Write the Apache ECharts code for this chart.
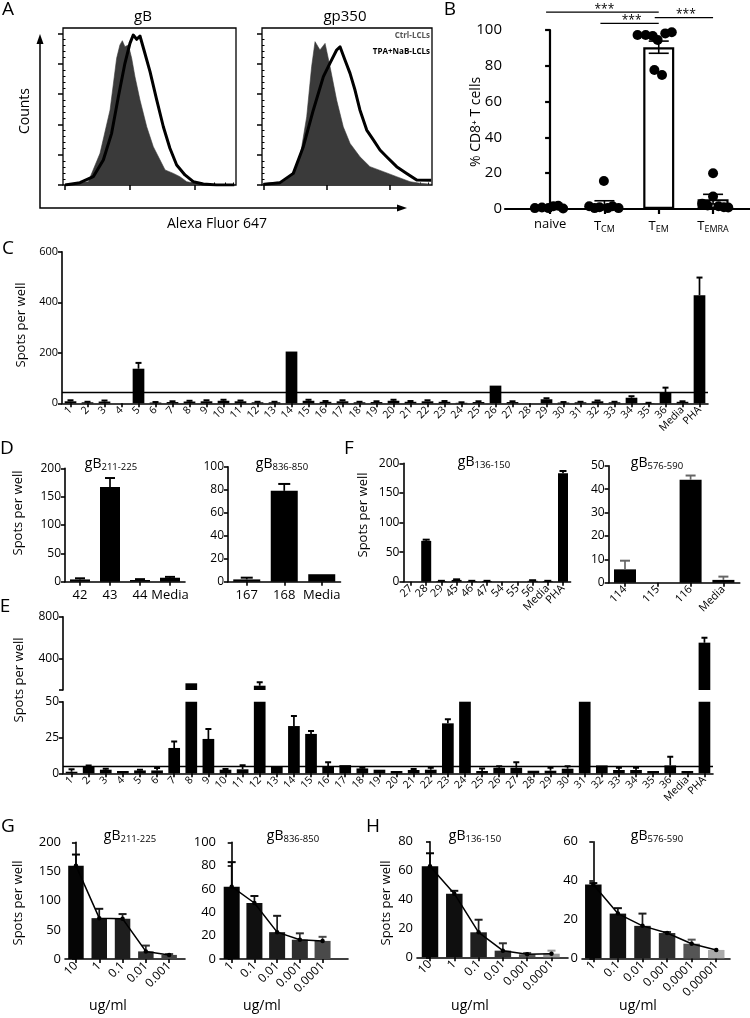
<!DOCTYPE html>
<html><head><meta charset="utf-8">
<script src="https://cdn.jsdelivr.net/npm/echarts@6.0.0/dist/echarts.min.js"></script>
<style>html,body{margin:0;padding:0;background:#fff;}#c{width:750px;height:1018px;}</style>
</head><body><div id="c"></div>
<script>
// ================= DATA =================
// Panel A - flow histograms (x: % of axis width, y: % of frame height)
const aGbCtrlX = [1.2,14.6,21.4,27.2,31,32.9,34.3,35.8,37.8,39.7,41.6,44.5,48.4,52.2,56.1,59,63.8,67.6,71.5,79.2,98];
const aGbCtrlY = [0.4,2.1,20.2,47.8,80.7,89.2,91.9,88.1,89.2,80.7,69,54.1,37.1,24.4,15.9,9.6,7.4,5.3,2.1,0.4,0];
const aGbTpaX  = [1.2,9.8,17.5,23.3,28.1,32,35.8,38.7,40.6,42.6,44.5,46.8,50.3,54.2,58,61.8,65.7,70.5,75.3,81.1,88.8,99];
const aGbTpaY  = [0,1.5,5.3,15.9,32.9,56.2,77.5,90.2,95.5,92.8,94.9,86,72.2,54.1,37.1,23.4,12.7,6.4,2.1,0.6,0,0];
const aGpCtrlX = [0.8,12.5,18.4,22.4,26.3,29.2,31.2,34.1,37.1,40,43.9,47.8,51.8,57.6,63.5,71.4,79.2,87.1,92.9,99.5];
const aGpCtrlY = [1.1,2.1,7.4,18,43.5,75.4,91.3,86,90.2,75.4,54.1,37.1,26.5,18,11.7,8.5,5.3,2.1,1.1,0.5];
const aGpTpaX  = [0.8,10.6,18.4,24.3,30.2,36.1,40,43.9,45.9,48.8,51.8,54.7,57.6,61.6,65.5,69.4,73.3,79.2,85.1,91,99.5];
const aGpTpaY  = [0.4,1.5,7.4,24.4,47.8,69,77.6,86,88,79.6,71.1,60.5,47.8,35,28.7,22.3,18,11.7,7.4,3.2,3];

// Panel B
const bCats  = ['naive','T_CM','T_EM','T_EMRA'];
const bMeans = [1.0, 2.6, 90.4, 5.5];
const bSem   = [0.3, 2.0, 3.4, 2.7];
const bDots  = [[0.5,0.8,0.5,1.5,1.8,0.3],[1.5,0.5,1,15.6,0.5,1.5,0.5],[97.2,97.2,96.6,94.4,98.1,98.7,77.7,74.9],[20,7,3,2,1.5,1,0.8]];
const bJitter= [[-0.28,-0.15,-0.03,0.06,0.15,0.24],[-0.28,-0.18,-0.09,-0.01,0.06,0.15,0.26],[-0.39,-0.24,-0.11,-0.02,0.12,0.24,-0.08,0.06],[0,0,-0.2,-0.1,0.1,0.2,0.28]];
const bSig   = [[0,2,110],[1,2,103.7],[2,3,106.9]];

// Panel C
const cCats = ['1','2','3','4','5','6','7','8','9','10','11','12','13','14','15','16','17','18','19','20','21','22','23','24','25','26','27','28','29','30','31','32','33','34','35','36','Media','PHA'];
const cVals = [8,4,7,0,137,3,5,7,8,10,8,4,4,205,10,6,8,4,5,10,6,8,6,2,5,70,5,0,16,3,4,8,4,22,1,42,6,428];
const cErr  = [12,6,11,0,160,5,8,10,12,14,11,6,6,205,14,9,12,6,8,14,9,12,9,4,8,70,8,0,20,5,6,11,6,28,2,62,8,498];
const cCutoff = 44;

// Panel D
const d1Cats = ['42','43','44','Media'], d1Vals = [4,167,3,7],  d1Err = [6,183,4.5,8.5];
const d2Cats = ['167','168','Media'],    d2Vals = [2,79,6.5],   d2Err = [3.5,85,6.5];

// Panel F
const f1Cats = ['27','28','29','45','46','47','54','55','56','Media','PHA'];
const f1Vals = [0,69,1,3,1,1,0,0,1.5,1,183];
const f1Err  = [0,71,1.5,4,1.5,1.5,0,0,2.5,1.5,187];
const f2Cats = ['114','115','116','Media'], f2Vals = [5.7,0,44,1.2], f2Err = [9.4,0,45.8,2.6];

// Panel E (broken axis)
const eCats = cCats;
const eVals = [1.1,4.4,2.5,1.6,2,2,17.7,164,24,2.5,2.8,141,4.4,33,27.5,4.4,5.7,3.4,2.5,1.6,2.3,2.5,34.9,80,1.6,3.9,3.9,1.8,1.8,3.2,80,5.5,2.3,2.3,1.6,5.5,1.6,552];
const eErr  = [2.8,5.5,3.2,1.6,2.5,3.7,22.2,164,31,3,5.7,174,4.4,40,29.6,7.8,5.7,3.9,2.5,1.6,3,3.9,37.8,80,3.4,5,7.8,1.8,3.9,5,80,5.5,3.9,3.9,1.6,11.5,1.6,600];
const eCutoff = 5;

// Panels G / H (dose titration)
const g1Cats = ['10','1','0.1','0.01','0.001'],           g1Vals = [160,70,69,13,7],        g1Err = [179,86,77,23,8.5];
const g2Cats = ['1','0.1','0.01','0.001','0.0001'],       g2Vals = [62,48,23,16.5,15.5],    g2Err = [83,54,37,22,19];
const h1Cats = ['10','1','0.1','0.01','0.001','0.0001'],  h1Vals = [63,44,17.3,4.6,2.1,2.5], h1Err = [72,46,26,9.7,3,4.6];
const h2Cats = ['1','0.1','0.01','0.001','0.0001','0.00001'], h2Vals = [38,23,16.7,13,7.5,4.3], h2Err = [38.7,25.8,23,13.5,9.6,4.3];

// ================= STYLE / BUILD =================
const FONT = "'Open Sans','DejaVu Sans',sans-serif";
const grid=[], xAxis=[], yAxis=[], series=[], graphic=[];
function addGrid(l,t,w,h,extra){grid.push(Object.assign({left:l,top:t,width:w,height:h},extra||{}));return grid.length-1;}
function addX(o){xAxis.push(o);return xAxis.length-1;}
function addY(o){yAxis.push(o);return yAxis.length-1;}
function text(x,y,t,style,rot){graphic.push({type:'text',x:x,y:y,rotation:rot||0,z:20,silent:true,
  style:Object.assign({text:t,fill:'#000',fontFamily:FONT,fontSize:13,align:'center',verticalAlign:'middle'},style||{})});}
const SUBR = {sub:{fontSize:9.5,fontFamily:FONT,fill:'#000',padding:[7,0,0,0]}};
function title(x,y,sub){text(x,y,'gB{sub|'+sub+'}',{fontSize:14,rich:SUBR});}
const LW = 1.6;
function axLine(w){return {show:true,lineStyle:{color:'#000',width:w||LW}};}
function axTick(len,w,extra){return Object.assign({show:true,length:len||4,lineStyle:{color:'#000',width:w||LW}},extra||{});}
function valY(gi,min,max,interval,fs,extra){
  return addY(Object.assign({gridIndex:gi,type:'value',min:min,max:max,interval:interval,
    axisLine:axLine(),axisTick:axTick(4),axisLabel:{color:'#000',fontFamily:FONT,fontSize:fs||12,margin:4},
    splitLine:{show:false}},extra||{}));
}
function catX(gi,cats,rot,fs,extra){
  return addX(Object.assign({gridIndex:gi,type:'category',data:cats,
    axisLine:axLine(),axisTick:axTick(4,LW,{alignWithLabel:true,interval:0}),
    axisLabel:{interval:0,rotate:rot||0,color:'#000',fontFamily:FONT,fontSize:fs||12,margin:rot?5:7},
    splitLine:{show:false}},extra||{}));
}
function errSeries(xi,yi,means,tops,capW,colors,clip){
  return {type:'custom',xAxisIndex:xi,yAxisIndex:yi,clip:!!clip,z:4,silent:true,
    data:means.map((m,i)=>[i,m,tops[i]]),
    renderItem:function(p,api){
      const x=api.value(0),m=api.value(1),t=api.value(2);
      if(!(t>m)) return {type:'group',children:[]};
      const a=api.coord([x,t]),b=api.coord([x,m]);
      const col=Array.isArray(colors)?colors[p.dataIndex]:colors;
      return {type:'group',children:[
        {type:'line',shape:{x1:a[0],y1:a[1],x2:b[0],y2:b[1]},style:{stroke:col,lineWidth:1.7}},
        {type:'line',shape:{x1:a[0]-capW/2,y1:a[1],x2:a[0]+capW/2,y2:a[1]},style:{stroke:col,lineWidth:2}}]};
    }};
}
function blackBars(xi,yi,vals,w,extra){
  return Object.assign({type:'bar',xAxisIndex:xi,yAxisIndex:yi,data:vals,barWidth:w,itemStyle:{color:'#000'},z:2,silent:true},extra||{});
}

// ---------- Panel A ----------
function histPanel(l,t,w,h,cx,cy,tx,ty,d0,D){
  const gi=addGrid(l,t,w,h,{show:true,borderColor:'#000',borderWidth:1.3,backgroundColor:'transparent'});
  const maj=[d0,d0+D,d0+2*D], minr=[];
  for(let d=0;d<3;d++) for(let k=2;k<10;k++){const v=d0+D*(d+Math.log10(k)); if(v<99.5) minr.push(v);}
  const ym=[],yn=[];
  for(let i=0;i*19.3<=100;i++) ym.push(+(i*19.3).toFixed(2));
  for(let i=0;i*3.86<=100;i++){ if(i%5) yn.push(+(i*3.86).toFixed(2)); }
  const base={gridIndex:gi,type:'value',min:0,max:100,axisLine:{show:false},axisLabel:{show:false},splitLine:{show:false}};
  const x1=addX(Object.assign({},base,{axisTick:axTick(5,1.5,{customValues:maj})}));
  addX(Object.assign({},base,{axisTick:axTick(2.5,1,{customValues:minr})}));
  const y1=addY(Object.assign({},base,{axisTick:axTick(5,1.5,{customValues:ym})}));
  addY(Object.assign({},base,{axisTick:axTick(2.5,1,{customValues:yn})}));
  series.push({type:'line',xAxisIndex:x1,yAxisIndex:y1,data:cx.map((v,i)=>[v,cy[i]]),showSymbol:false,silent:true,
    lineStyle:{width:0.6,color:'#3a3a3a'},areaStyle:{color:'#3a3a3a',opacity:1},z:2});
  series.push({type:'line',xAxisIndex:x1,yAxisIndex:y1,data:tx.map((v,i)=>[v,ty[i]]),showSymbol:false,silent:true,
    lineStyle:{width:3,color:'#000',join:'round'},z:3});
}
histPanel(63,28,173,157,aGbCtrlX,aGbCtrlY,aGbTpaX,aGbTpaY,1.2,37.4);
histPanel(262,28,170,157,aGpCtrlX,aGpCtrlY,aGpTpaX,aGpTpaY,0.8,37.3);
text(143,17,'gB',{fontSize:15});
text(345,17,'gp350',{fontSize:15});
text(430,36,'Ctrl-LCLs',{fontSize:8,fill:'#555',align:'right',fontWeight:'bold'});
text(430,52,'TPA+NaB-LCLs',{fontSize:8,fill:'#000',align:'right',fontWeight:'bold'});
graphic.push({type:'polyline',shape:{points:[[40,41],[40,208],[399,208]]},style:{stroke:'#000',lineWidth:1.5,fill:null},silent:true});
graphic.push({type:'polygon',shape:{points:[[36.5,44],[43.5,44],[40,34]]},style:{fill:'#000'},silent:true});
graphic.push({type:'polygon',shape:{points:[[397,204.5],[397,211.5],[407,208]]},style:{fill:'#000'},silent:true});
text(25,111,'Counts',{fontSize:14},Math.PI/2);
text(217,224,'Alexa Fluor 647',{fontSize:14});

// ---------- Panel B ----------
(function(){
  const gi=addGrid(505,30,245,179);
  const ticks=[0,1,2,3];
  const xi=addX({gridIndex:gi,type:'value',min:-0.83,max:3.68,axisLine:axLine(2.2),
    axisTick:axTick(5,2.2,{customValues:ticks}),
    axisLabel:{customValues:ticks,color:'#000',fontFamily:FONT,fontSize:13,margin:9,
      formatter:v=>{const s=bCats[Math.round(v)];const p=s.split('_');return p.length>1?p[0]+'{sub|'+p[1]+'}':s;},
      rich:{sub:{fontSize:9,fontFamily:FONT,color:'#000',padding:[7,0,0,0]}}},splitLine:{show:false}});
  const yi=valY(gi,0,100,20,15,{axisLine:axLine(2.2),axisTick:axTick(5,2.2),axisLabel:{color:'#000',fontFamily:FONT,fontSize:15,margin:3}});
  series.push({type:'bar',xAxisIndex:xi,yAxisIndex:yi,data:bMeans.map((v,i)=>[i,v]),barWidth:31,silent:true,
    itemStyle:{color:'#fff',borderColor:'#000',borderWidth:2.2},z:2});
  series.push({type:'custom',xAxisIndex:xi,yAxisIndex:yi,z:3,silent:true,data:bMeans.map((m,i)=>[i,m,bSem[i]]),
    renderItem:function(p,api){
      const x=api.value(0),m=api.value(1),s=api.value(2);
      const a=api.coord([x,m+s]),b=api.coord([x,m-s]);
      return {type:'group',children:[
        {type:'line',shape:{x1:a[0],y1:a[1],x2:b[0],y2:b[1]},style:{stroke:'#000',lineWidth:1.6}},
        {type:'line',shape:{x1:a[0]-10,y1:a[1],x2:a[0]+10,y2:a[1]},style:{stroke:'#000',lineWidth:1.6}},
        {type:'line',shape:{x1:b[0]-10,y1:b[1],x2:b[0]+10,y2:b[1]},style:{stroke:'#000',lineWidth:1.6}}]};
    }});
  const pts=[];
  bDots.forEach((arr,i)=>arr.forEach((v,j)=>pts.push([i+bJitter[i][j],v])));
  series.push({type:'scatter',xAxisIndex:xi,yAxisIndex:yi,data:pts,symbolSize:10,itemStyle:{color:'#000',opacity:1},z:5,silent:true});
  series.push({type:'custom',xAxisIndex:xi,yAxisIndex:yi,z:6,silent:true,clip:false,data:bSig,
    renderItem:function(p,api){
      const a=api.coord([api.value(0),api.value(2)]),b=api.coord([api.value(1),api.value(2)]);
      return {type:'group',children:[
        {type:'line',shape:{x1:a[0]-4,y1:a[1],x2:b[0],y2:b[1]},style:{stroke:'#000',lineWidth:1.3}},
        {type:'text',x:(a[0]+b[0])/2,y:a[1]-3,style:{text:'***',fill:'#000',fontSize:12,fontFamily:FONT,align:'center',verticalAlign:'middle'}}]};
    }});
  text(476,122,'% CD8\u207A T cells',{fontSize:14},Math.PI/2);
})();

// ---------- Panel C ----------
(function(){
  const gi=addGrid(62,251.8,646,151.5);
  const xi=catX(gi,cCats,45,10.5);
  const yi=valY(gi,0,600,200,11);
  series.push(blackBars(xi,yi,cVals,11.7,{markLine:{silent:true,symbol:'none',label:{show:false},
    lineStyle:{color:'#000',width:1.3,type:'solid'},data:[{yAxis:cCutoff}]}}));
  series.push(errSeries(xi,yi,cVals,cErr,6,'#000'));
  text(21,325,'Spots per well',{fontSize:13},Math.PI/2);
})();

// ---------- Panel D ----------
(function(){
  let gi=addGrid(65,468.4,120,113.3);
  let xi=catX(gi,d1Cats,0,13), yi=valY(gi,0,200,50,12);
  series.push(blackBars(xi,yi,d1Vals,20)); series.push(errSeries(xi,yi,d1Vals,d1Err,10,'#000'));
  gi=addGrid(228,466.7,112.5,115);
  xi=catX(gi,d2Cats,0,13); yi=valY(gi,0,100,20,12);
  series.push(blackBars(xi,yi,d2Vals,27)); series.push(errSeries(xi,yi,d2Vals,d2Err,12,'#000'));
  title(111,464,'211-225'); title(282,464,'836-850');
  text(18,513,'Spots per well',{fontSize:13},Math.PI/2);
})();

// ---------- Panel F ----------
(function(){
  let gi=addGrid(403.4,463.3,167.2,118.4);
  let xi=catX(gi,f1Cats,45,11), yi=valY(gi,0,200,50,12);
  series.push(blackBars(xi,yi,f1Vals,10)); series.push(errSeries(xi,yi,f1Vals,f1Err,7,'#000'));
  gi=addGrid(608.6,465.7,131.2,117);
  xi=catX(gi,f2Cats,45,11); yi=valY(gi,0,50,10,12);
  series.push(blackBars(xi,yi,f2Vals,22)); series.push(errSeries(xi,yi,f2Vals,f2Err,10,'#666'));
  title(484,462,'136-150'); title(657,463,'576-590');
  text(363,515,'Spots per well',{fontSize:13},Math.PI/2);
})();

// ---------- Panel E (broken y axis) ----------
(function(){
  const gu=addGrid(63,616.7,650,73.3);
  const xu=catX(gu,eCats,0,10,{show:false});
  const yu=addY({gridIndex:gu,type:'value',min:100,max:800,axisLine:axLine(),
    axisTick:axTick(4,LW,{customValues:[100,400,800]}),
    axisLabel:{customValues:[400,800],color:'#000',fontFamily:FONT,fontSize:12,margin:4},splitLine:{show:false}});
  series.push(blackBars(xu,yu,eVals,11.7,{clip:true}));
  series.push(errSeries(xu,yu,eVals,eErr,6,'#000',true));
  const gl=addGrid(63,701.7,650,71.6);
  const xl=catX(gl,eCats,45,10.5);
  const yl=valY(gl,0,50,25,12);
  series.push(blackBars(xl,yl,eVals,11.7,{clip:true,markLine:{silent:true,symbol:'none',label:{show:false},
    lineStyle:{color:'#000',width:1.3,type:'solid'},data:[{yAxis:eCutoff}]}}));
  series.push(errSeries(xl,yl,eVals,eErr,6,'#000',true));
  text(19,680,'Spots per well',{fontSize:13},Math.PI/2);
})();

// ---------- Panels G / H ----------
function dosePanel(l,t,w,h,cats,vals,errs,colors,xmin,xmax,ymax,yint,barW){
  const gi=addGrid(l,t,w,h);
  const tv=cats.map((c,i)=>i);
  const xi=addX({gridIndex:gi,type:'value',min:xmin,max:xmax,axisLine:axLine(),
    axisTick:axTick(4,LW,{customValues:tv}),
    axisLabel:{customValues:tv,formatter:v=>cats[Math.round(v)],rotate:45,color:'#000',fontFamily:FONT,fontSize:12,margin:5},
    splitLine:{show:false}});
  const yi=valY(gi,0,ymax,yint,13);
  series.push({type:'bar',xAxisIndex:xi,yAxisIndex:yi,barWidth:barW,silent:true,z:2,
    data:vals.map((v,i)=>({value:[i,v],itemStyle:{color:colors[i]}}))});
  series.push(errSeries(xi,yi,vals,errs,8,colors));
  series.push({type:'line',xAxisIndex:xi,yAxisIndex:yi,data:vals.map((v,i)=>[i,v]),symbol:'circle',symbolSize:4.5,
    lineStyle:{color:'#000',width:1.5},itemStyle:{color:'#000',opacity:1},z:5,silent:true});
}
dosePanel(65,842.3,120,116.7,g1Cats,g1Vals,g1Err,['#050505','#141414','#1e1e1e','#2e2e2e','#454545'],-0.47,4.68,200,50,15.5);
dosePanel(220,842.3,128,116.7,g2Cats,g2Vals,g2Err,['#050505','#101010','#1c1c1c','#2e2e2e','#4a4a4a'],-0.515,5.12,100,20,16);
dosePanel(417,841.7,151,115.6,h1Cats,h1Vals,h1Err,['#050505','#0f0f0f','#1e1e1e','#303030','#555555','#999999'],-0.535,5.68,80,20,16.5);
dosePanel(582,841.7,148,116.6,h2Cats,h2Vals,h2Err,['#050505','#0f0f0f','#1e1e1e','#2e2e2e','#555555','#aaaaaa'],-0.46,5.56,60,20,16.5);
title(130,836,'211-225'); title(293,836,'836-850'); title(475,836,'136-150'); title(657,836,'576-590');
text(108,1006,'ug/ml',{fontSize:14}); text(262,1006,'ug/ml',{fontSize:14});
text(470,1006,'ug/ml',{fontSize:14}); text(638,1006,'ug/ml',{fontSize:14});
text(18,903,'Spots per well',{fontSize:13},Math.PI/2);
text(386,903,'Spots per well',{fontSize:13},Math.PI/2);

// Panel letters
[['A',8,10],['B',450,10],['C',8,249],['D',7,449],['E',5,607],['F',349,449],['G',8,827],['H',373,827]]
  .forEach(l=>text(l[1],l[2],l[0],{fontSize:19}));

const chart=echarts.init(document.getElementById('c'),null,{renderer:'canvas'});
chart.setOption({animation:false,backgroundColor:'#fff',textStyle:{fontFamily:FONT},
  grid,xAxis,yAxis,series,graphic});
</script></body></html>
